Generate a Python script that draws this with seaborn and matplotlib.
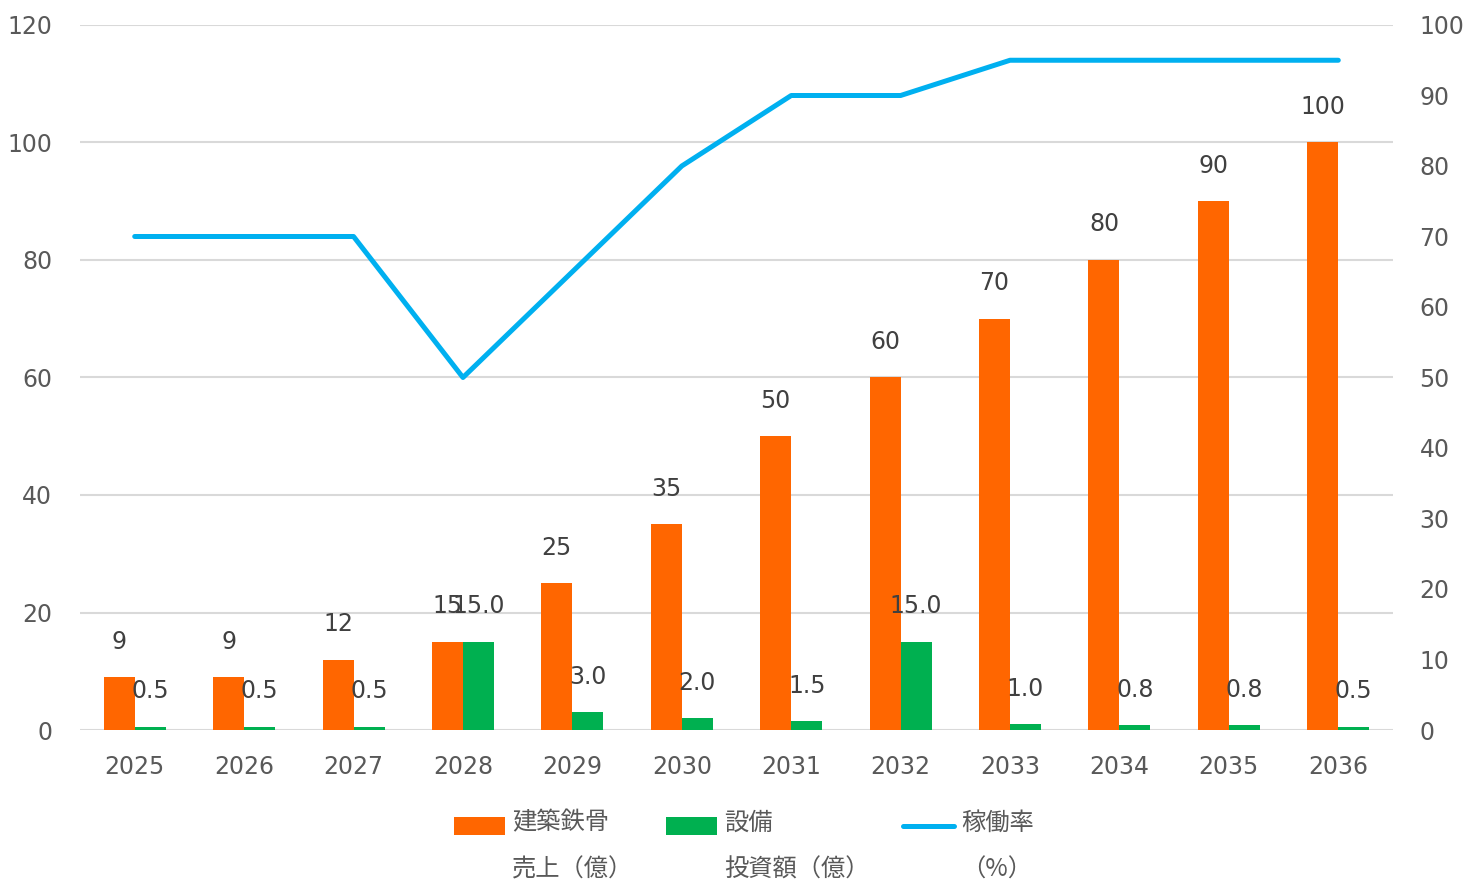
import numpy as np
import pandas as pd
import seaborn as sns
import matplotlib
matplotlib.use("Agg")
import matplotlib.pyplot as plt
import matplotlib.transforms as mtrans
from matplotlib.patches import Patch
from matplotlib.lines import Line2D
from matplotlib.legend_handler import HandlerPatch, HandlerLine2D

# データ
years = ["2025", "2026", "2027", "2028", "2029", "2030",
         "2031", "2032", "2033", "2034", "2035", "2036"]
sales = [9, 9, 12, 15, 25, 35, 50, 60, 70, 80, 90, 100]          # 建築鉄骨 売上（億）
invest = [0.5, 0.5, 0.5, 15.0, 3.0, 2.0, 1.5, 15.0, 1.0, 0.8, 0.8, 0.5]  # 設備 投資額（億）
rate = [70, 70, 70, 50, 65, 80, 90, 90, 95, 95, 95, 95]           # 稼働率（%）

lab_sales = "建築鉄骨\n売上（億）"
lab_inv = "設備\n投資額（億）"
lab_rate = "稼働率\n（%）"

c_orange = "#FF6600"
c_green = "#00B050"
c_blue = "#00B0F0"
c_grid = "#D9D9D9"
c_tick = "#595959"
c_lab = "#404040"

sns.set_theme(style="white")
plt.rcParams["font.family"] = ["DejaVu Sans", "Noto Sans CJK JP"]

df = pd.DataFrame({
    "year": years * 2,
    "value": sales + invest,
    "series": ["sales"] * len(years) + ["invest"] * len(years),
})

fig = plt.figure(figsize=(14.73, 8.86), dpi=100)
ax = fig.add_axes([80 / 1473, 1 - 730 / 886, 1313 / 1473, 705 / 886])

sns.barplot(data=df, x="year", y="value", hue="series", order=years,
            hue_order=["sales", "invest"],
            palette={"sales": c_orange, "invest": c_green}, saturation=1,
            width=0.567, linewidth=0, legend=False, ax=ax)

ax.set_ylim(0, 120)
ax.set_yticks(np.arange(0, 121, 20))
ax.set_xlim(-0.5, len(years) - 0.5)
ax.set_xlabel("")
ax.set_ylabel("")
ax.grid(axis="y", color=c_grid, linewidth=1.5)
ax.set_axisbelow(True)
for s in ax.spines.values():
    s.set_visible(False)
ax.tick_params(axis="both", length=0, labelsize=17, labelcolor=c_tick)
ax.tick_params(axis="y", pad=20)
ax.tick_params(axis="x", pad=18)

# データラベル
ax.bar_label(ax.containers[0], labels=[str(v) for v in sales],
             padding=17, fontsize=17, color=c_lab)
ax.bar_label(ax.containers[1], labels=[f"{v:.1f}" for v in invest],
             padding=17, fontsize=17, color=c_lab)

# 稼働率（右軸）
ax2 = ax.twinx()
sns.lineplot(x=np.arange(len(years)), y=rate, color=c_blue, linewidth=3.6,
             solid_capstyle="round", ax=ax2)
ax2.set_ylim(0, 100)
ax2.set_yticks(np.arange(0, 101, 10))
ax2.set_xlim(-0.5, len(years) - 0.5)
for s in ax2.spines.values():
    s.set_visible(False)
ax2.tick_params(axis="y", length=0, labelsize=17, labelcolor=c_tick, pad=19)
ax2.grid(False)

# 凡例（マーカーを1行目に合わせる）
LIFT = 15.5


class UpPatch(HandlerPatch):
    def create_artists(self, legend, orig_handle, xdescent, ydescent,
                       width, height, fontsize, trans):
        trans = mtrans.Affine2D().translate(0, LIFT) + trans
        return super().create_artists(legend, orig_handle, xdescent, ydescent,
                                      width, height, fontsize, trans)


class UpLine(HandlerLine2D):
    def create_artists(self, legend, orig_handle, xdescent, ydescent,
                       width, height, fontsize, trans):
        trans = mtrans.Affine2D().translate(0, LIFT) + trans
        return super().create_artists(legend, orig_handle, xdescent, ydescent,
                                      width, height, fontsize, trans)


handles = [Patch(facecolor=c_orange, linewidth=0),
           Patch(facecolor=c_green, linewidth=0),
           Line2D([], [], color=c_blue, linewidth=3.6, solid_capstyle="round")]
leg = fig.legend(handles, [lab_sales, lab_inv, lab_rate], ncol=3,
                 loc="upper center", bbox_to_anchor=(0.505, 0.111),
                 frameon=False,
                 prop={"family": ["Noto Sans CJK JP"], "size": 17.5},
                 handlelength=2.1, handleheight=0.7, handletextpad=0.3,
                 columnspacing=1.35,
                 handler_map={Patch: UpPatch(), Line2D: UpLine()})
for t in leg.get_texts():
    t.set_color(c_tick)
    t.set_linespacing(2.05)

fig.savefig("out.png", dpi=100)
